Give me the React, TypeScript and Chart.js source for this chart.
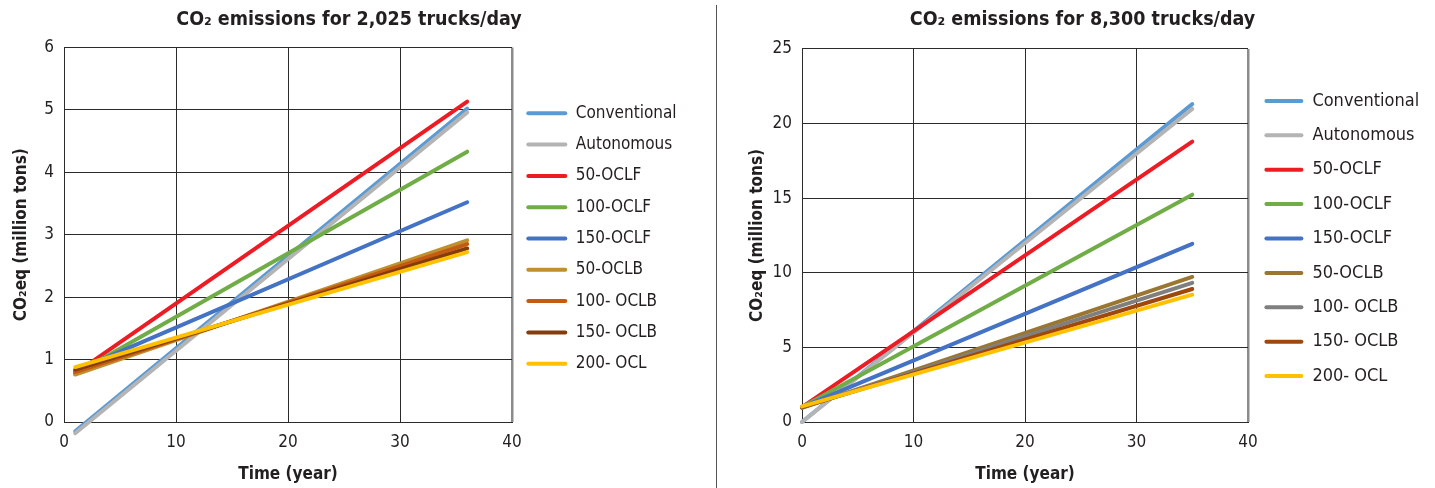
import React, { useEffect, useRef } from "react";
import { Chart, registerables } from "chart.js";

Chart.register(...registerables);

// ---------- data ----------
const seriesNames = [
  "Conventional",
  "Autonomous",
  "50-OCLF",
  "100-OCLF",
  "150-OCLF",
  "50-OCLB",
  "100- OCLB",
  "150- OCLB",
  "200- OCL",
];

// years at which each straight line starts and ends
const years2025 = [1, 36];
const years8300 = [0, 35];

// CO2eq (million tons) at first / last year, per series
const start2025 = [-0.15, -0.18, 0.78, 0.77, 0.82, 0.76, 0.8, 0.84, 0.88];
const end2025 = [5.02, 4.96, 5.13, 4.33, 3.52, 2.91, 2.85, 2.78, 2.72];

const start8300 = [0, 0, 1.0, 1.0, 1.0, 0.95, 0.98, 1.0, 1.05];
const end8300 = [21.3, 20.98, 18.79, 15.23, 11.94, 9.72, 9.32, 8.91, 8.53];

const colors2025 = ["#5b9bd5", "#b4b4b4", "#ed1c24", "#70ad47", "#4472c4", "#bf9030", "#c55a11", "#843c0c", "#ffc000"];
const colors8300 = ["#5b9bd5", "#b4b4b4", "#ed1c24", "#70ad47", "#4472c4", "#9a7630", "#7f7f7f", "#9e480e", "#ffc000"];

const xTicks = [0, 10, 20, 30, 40];
const yMax2025 = 6;
const yStep2025 = 1;
const yMax8300 = 25;
const yStep8300 = 5;

const FONT = '"Liberation Sans Narrow", "DejaVu Sans Condensed", "Roboto Condensed", "Liberation Sans", sans-serif';
const TEXT = "#231f20";

type Cfg = {
  title: string;
  years: number[];
  start: number[];
  end: number[];
  colors: string[];
  yMax: number;
  yStep: number;
  yAxisWidth: number;
  legendWidth: number;
  legendShift: number;
  xAxisHeight: number;
  yTitlePad: number;
  titleBottomPad: number;
  legendFont: number;
  legendPad: number;
  legendBox: number;
};

function makeChart(canvas: HTMLCanvasElement, c: Cfg) {
  const datasets = seriesNames.map((name, i) => ({
    label: name,
    data: [
      { x: c.years[0], y: c.start[i] },
      { x: c.years[1], y: c.end[i] },
    ],
    borderColor: c.colors[i],
    backgroundColor: c.colors[i],
    borderWidth: 4,
    borderCapStyle: "round" as const,
    pointRadius: 0,
    pointHoverRadius: 0,
    clip: false as const,
    order: seriesNames.length - i,
  }));

  const legendPatchPlugin = {
    id: "legendPatch",
    beforeLayout(chart: any) {
      const lg = chart.legend;
      if (lg && !lg.__patched) {
        const origFit = lg.fit.bind(lg);
        lg.fit = function () {
          origFit();
          this.width = c.legendWidth;
        };
        const origDraw = lg.draw.bind(lg);
        lg.draw = function () {
          const ctx = chart.ctx;
          ctx.save();
          ctx.translate(0, c.legendShift);
          origDraw();
          ctx.restore();
        };
        lg.__patched = true;
      }
    },
  };

  return new Chart(canvas, {
    type: "line",
    data: { datasets },
    plugins: [legendPatchPlugin],
    options: {
      animation: false,
      responsive: false,
      events: [],
      layout: { padding: 0 },
      scales: {
        x: {
          type: "linear",
          min: 0,
          max: 40,
          afterBuildTicks: (s: any) => {
            s.ticks = xTicks.map((v) => ({ value: v }));
          },
          afterFit: (s: any) => {
            s.height = c.xAxisHeight;
          },
          grid: {
            color: (ctx: any) => (ctx.tick && ctx.tick.value === 40 ? "#8c8c8c" : "#2b2b2b"),
            lineWidth: (ctx: any) => (ctx.tick && ctx.tick.value === 40 ? 2.5 : 1),
            drawTicks: false,
          },
          border: { color: "#2b2b2b", width: 1 },
          ticks: {
            color: TEXT,
            font: { family: FONT, size: 17 },
            padding: 10,
            maxRotation: 0,
          },
          title: {
            display: true,
            text: "Time (year)",
            color: TEXT,
            font: { family: FONT, size: 17, weight: "bold" },
            padding: { top: 0, bottom: 3 },
          },
        },
        y: {
          type: "linear",
          min: 0,
          max: c.yMax,
          ticks: {
            stepSize: c.yStep,
            color: TEXT,
            font: { family: FONT, size: 17 },
            padding: 10,
          },
          afterFit: (s: any) => {
            s.width = c.yAxisWidth;
          },
          grid: { color: "#2b2b2b", lineWidth: 1, drawTicks: false },
          border: { color: "#2b2b2b", width: 1 },
          title: {
            display: true,
            text: "CO₂eq (million tons)",
            color: TEXT,
            font: { family: FONT, size: 17, weight: "bold" },
            padding: { top: c.yTitlePad, bottom: 0 },
          },
        },
      },
      plugins: {
        title: {
          display: true,
          text: c.title,
          color: TEXT,
          font: { family: FONT, size: 19.5, weight: "bold" },
          padding: { top: 8, bottom: c.titleBottomPad },
        },
        tooltip: { enabled: false },
        legend: {
          display: true,
          position: "right",
          align: "center",
          labels: {
            color: TEXT,
            font: { family: FONT, size: c.legendFont },
            boxWidth: c.legendBox,
            boxHeight: 4,
            padding: c.legendPad,
            useBorderRadius: true,
            borderRadius: 2,
            sort: (a: any, b: any) => a.datasetIndex - b.datasetIndex,
            generateLabels: (chart: any) =>
              (Chart.defaults.plugins.legend.labels.generateLabels as any)(chart).map((it: any) => ({
                ...it,
                lineWidth: 0,
                fillStyle: c.colors[it.datasetIndex],
                strokeStyle: c.colors[it.datasetIndex],
              })),
          },
        },
      },
    },
  } as any);
}

function ChartBox(props: { cfg: Cfg; left: number; width: number }) {
  const ref = useRef<HTMLCanvasElement | null>(null);
  useEffect(() => {
    if (!ref.current) return;
    const ch = makeChart(ref.current, props.cfg);
    return () => ch.destroy();
  }, []);
  return (
    <div style={{ position: "absolute", left: props.left, top: 0, width: props.width, height: 488 }}>
      <canvas ref={ref} width={props.width} height={488} style={{ width: props.width, height: 488, display: "block" }} />
    </div>
  );
}

const cfg2025: Cfg = {
  title: "CO₂ emissions for 2,025 trucks/day",
  years: years2025,
  start: start2025,
  end: end2025,
  colors: colors2025,
  yMax: yMax2025,
  yStep: yStep2025,
  yAxisWidth: 64,
  legendWidth: 186,
  legendShift: -5.5,
  xAxisHeight: 66,
  yTitlePad: 11,
  titleBottomPad: 16,
  legendFont: 17,
  legendPad: 14.3,
  legendBox: 41,
};

const cfg8300: Cfg = {
  title: "CO₂ emissions for 8,300 trucks/day",
  years: years8300,
  start: start8300,
  end: end8300,
  colors: colors8300,
  yMax: yMax8300,
  yStep: yStep8300,
  yAxisWidth: 72,
  legendWidth: 187,
  legendShift: -5.5,
  xAxisHeight: 66,
  yTitlePad: 17,
  titleBottomPad: 17.5,
  legendFont: 18,
  legendPad: 16.4,
  legendBox: 39,
};

export default function App() {
  return (
    <div style={{ position: "absolute", left: 0, top: 0, width: 1435, height: 488, background: "#fff", overflow: "hidden" }}>
      <ChartBox cfg={cfg2025} left={0} width={698} />
      <div style={{ position: "absolute", left: 716, top: 5, width: 1, height: 483, background: "#555" }} />
      <ChartBox cfg={cfg8300} left={730} width={705} />
    </div>
  );
}
